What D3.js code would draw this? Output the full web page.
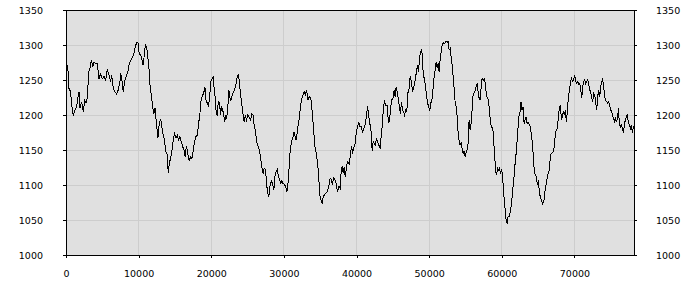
<!DOCTYPE html>
<html>
<head>
<meta charset="utf-8">
<script src="https://cdn.jsdelivr.net/npm/d3@7"></script>
<style>
  body { margin: 0; background: #fff; }
  #chart { width: 700px; height: 300px; }
  .axis text { font-family: "DejaVu Sans", sans-serif; font-size: 9.5px; fill: #000; }
  .axis line { stroke: #000; shape-rendering: crispEdges; }
  .axis path { display: none; }
</style>
</head>
<body>
<div id="chart"></div>
<script>
// values
const xTicks = [0, 10000, 20000, 30000, 40000, 50000, 60000, 70000];
const yTicks = [1000, 1050, 1100, 1150, 1200, 1250, 1300, 1350];
const xMax = 78200;

const sampleX = [
  0, 280, 410, 640, 730, 1010, 1240, 1470, 1650, 1790, 1930, 2160, 2390, 2570, 2750, 2940,
  3120, 3300, 3490, 3670, 3850, 4130, 4310, 4540, 4770, 5000, 5230, 5460, 5690, 5920, 6150,
  6280, 6510, 6740, 6970, 7200, 7430, 7520, 7710, 7890, 8070, 8300, 8530, 8720, 8990, 9170,
  9360, 9540, 9730, 9910, 10090, 10280, 10460, 10600, 10730, 10920, 11100, 11240, 11420,
  11560, 11740, 11930, 12110, 12250, 12390, 12520, 12660, 12840, 13030, 13170, 13300, 13440,
  13580, 13720, 13900, 14080, 14220, 14400, 14590, 14770, 14950, 15140, 15320, 15500, 15690,
  15870, 16060, 16240, 16420, 16560, 16700, 16830, 16970, 17160, 17340, 17520, 17710, 17890,
  18070, 18260, 18440, 18530, 18670, 18850, 18990, 19130, 19270, 19450, 19630,
  19770, 19950, 20140, 20270, 20410, 20550, 20690, 20820, 20960, 21140, 21280, 21420, 21560,
  21700, 21830, 21970, 22110, 22250, 22430, 22570, 22700, 22890, 23070, 23250, 23440, 23580,
  23710, 23850, 23990, 24170, 24360, 24540, 24680, 24860, 25040, 25230, 25410, 25590, 25780,
  25920, 26050, 26190, 26330, 26510, 26700, 26830, 27020, 27150, 27290, 27470, 27610, 27750,
  27930, 28070, 28250, 28440, 28620, 28760, 28940, 29080, 29220, 29400, 29580, 29720, 29860,
  30040, 30230, 30410, 30550, 30690, 30870, 31050, 31240, 31370, 31510, 31650, 31790, 31970,
  32150, 32290, 32470, 32660, 32800, 32980, 33120, 33300, 33480, 33670, 33800, 33940, 34130,
  34260, 34450, 34630, 34770, 34910, 35090, 35270, 35410, 35590, 35780, 35960, 36100, 36240,
  36370, 36560, 36690, 36830, 37020, 37200, 37380, 37570, 37750, 37890, 38020, 38160, 38300,
  38440, 38620, 38760, 38940,
  38990, 39170, 39310, 39450, 39580, 39770, 39950, 40130, 40320, 40460, 40640, 40820, 41010,
  41190, 41370, 41510, 41650, 41790, 41920, 42060, 42150, 42290, 42430, 42570, 42750, 42890,
  43070, 43250, 43390, 43570, 43710, 43850, 44030, 44220, 44400, 44540, 44680, 44810, 45000,
  45180, 45320, 45450, 45640, 45780, 45910, 46050, 46190, 46330, 46460, 46600, 46790, 46920,
  47060, 47240, 47380, 47560, 47700, 47890, 48070, 48250, 48390, 48530, 48670, 48800, 48990,
  49120, 49260, 49400, 49580, 49720, 49900, 50090, 50230, 50410, 50550, 50680, 50820, 50960,
  51100, 51230, 51370, 51510, 51650, 51780, 51970, 52150, 52290, 52470, 52610, 52750, 52890,
  53020, 53160, 53300, 53440, 53570, 53710, 53850, 53990, 54120, 54260, 54400, 54540, 54670,
  54810, 54950, 55090, 55230, 55360, 55500, 55640, 55780, 55910, 56050, 56230, 56370, 56510,
  56650, 56780, 56920, 57060, 57200, 57340, 57470, 57610, 57750, 57890, 58020, 58160, 58300,
  58440,
  58570, 58760, 58890, 59030, 59170, 59310, 59400, 59540, 59670, 59810, 59950, 60090, 60220,
  60360, 60500, 60590, 60730, 60870, 61000, 61140, 61280, 61420, 61550, 61690, 61830, 61970,
  62100, 62240, 62380, 62520, 62650, 62790, 62930, 63070, 63200, 63340, 63480, 63620, 63800,
  63940, 64080, 64210, 64350, 64490, 64630, 64760, 64900, 65040, 65180, 65310, 65450, 65590,
  65730, 65870, 66000, 66140, 66280, 66420, 66550, 66690, 66830, 66970, 67100, 67240, 67380,
  67520, 67650, 67790, 67930, 68070, 68200, 68340, 68480, 68620, 68760, 68890, 69030, 69170,
  69310, 69440, 69580, 69720, 69860, 70040, 70180, 70320, 70450, 70590, 70730, 70870, 71000,
  71140, 71280, 71420, 71550, 71690, 71830, 71970, 72100, 72240, 72380, 72520, 72650, 72790,
  72930, 73070, 73200, 73340, 73480, 73620, 73760, 73890, 74030, 74170, 74310, 74440, 74580,
  74720, 74860, 74990, 75130, 75270, 75410, 75540, 75680, 75820, 75960, 76050, 76190, 76320,
  76460, 76600, 76740, 76870, 77010, 77150, 77290, 77430, 77560, 77700, 77840, 77980, 78110,
  78200
];

const sampleY = [
  1281, 1262, 1238, 1233, 1219, 1199, 1207, 1212, 1225, 1233, 1210, 1219, 1205, 1221, 1217, 1224,
  1262, 1267, 1279, 1269, 1275, 1273, 1274, 1252, 1259, 1252, 1255, 1250, 1265, 1257, 1248,
  1257, 1238, 1233, 1230, 1236, 1248, 1260, 1248, 1233, 1248, 1255, 1262, 1274, 1279, 1283,
  1288, 1298, 1303, 1304, 1286, 1287, 1279, 1271, 1281, 1300, 1298, 1286, 1267,
  1243, 1229, 1212, 1202, 1210, 1195, 1181, 1167, 1188, 1194, 1186, 1174, 1171,
  1162, 1148, 1145, 1117, 1131, 1138, 1150, 1165, 1173, 1167, 1171, 1165, 1169,
  1162, 1155, 1150, 1140, 1155, 1150, 1140, 1135, 1140, 1138, 1150, 1162, 1169,
  1171, 1188, 1202, 1217, 1224, 1229, 1233, 1240, 1221, 1217, 1212,
  1226, 1248, 1252, 1255, 1236, 1224, 1202, 1199, 1219, 1217, 1200, 1212, 1207,
  1202, 1190, 1198, 1195, 1207, 1236, 1224, 1221, 1229, 1233, 1238, 1245, 1255,
  1257, 1250, 1233, 1219, 1202, 1190, 1200, 1193, 1200, 1197, 1193, 1202, 1200,
  1183, 1179, 1167, 1157, 1154, 1145, 1136, 1121, 1117, 1124, 1122, 1102, 1090,
  1083, 1098, 1106, 1102, 1093, 1112, 1119, 1122, 1114, 1107, 1102, 1107, 1102,
  1101, 1098, 1090, 1100, 1121, 1150, 1162, 1167, 1176, 1171, 1164, 1171, 1186,
  1198, 1214, 1224, 1229, 1233, 1229, 1236, 1221, 1226, 1225, 1217, 1198, 1174,
  1155, 1145, 1131, 1117, 1088, 1079, 1074, 1083, 1086, 1088, 1090, 1095, 1102,
  1110, 1107, 1100, 1110, 1108, 1102, 1090, 1098, 1095, 1121, 1127, 1117, 1126,
  1112, 1126, 1133, 1131,
  1129, 1145, 1156, 1145, 1152, 1157, 1174, 1183, 1190, 1183, 1183, 1176, 1181,
  1186, 1198, 1213, 1202, 1190, 1183, 1171, 1148, 1162, 1160, 1157, 1167, 1162,
  1157, 1152, 1169, 1188, 1212, 1219, 1214, 1214, 1188, 1193, 1207, 1222, 1222,
  1236, 1226, 1240, 1231, 1221, 1210, 1202, 1219, 1207, 1205, 1200, 1207, 1205,
  1231, 1238, 1255, 1248, 1233, 1240, 1250, 1262, 1271, 1262, 1281, 1290, 1293,
  1267, 1255, 1248, 1233, 1221, 1212, 1207, 1217, 1224, 1240, 1255, 1264, 1276,
  1267, 1274, 1262, 1279, 1290, 1300, 1303, 1302, 1305, 1304, 1305, 1293, 1295,
  1283, 1271, 1255, 1238, 1219, 1212, 1198, 1174, 1164, 1157, 1160, 1152, 1145,
  1148, 1140, 1146, 1150, 1160, 1193, 1179, 1188, 1207, 1229, 1233, 1236, 1243,
  1245, 1226, 1224, 1221, 1250, 1252, 1250, 1252, 1243, 1226, 1225, 1221, 1207,
  1188,
  1183, 1181, 1162, 1140, 1119, 1114, 1126, 1121, 1124, 1117, 1121, 1117, 1093,
  1076, 1060, 1050, 1045, 1055, 1055, 1060, 1069, 1083, 1098, 1112, 1131, 1145,
  1162, 1183, 1200, 1205, 1219, 1207, 1212, 1188, 1193, 1197, 1188, 1190, 1186,
  1183, 1171, 1160, 1140, 1117, 1114, 1112, 1100, 1107, 1088, 1083, 1079, 1073,
  1076, 1081, 1098, 1102, 1112, 1119, 1121, 1143, 1145, 1146, 1148, 1155, 1174,
  1179, 1181, 1198, 1210, 1214, 1193, 1198, 1205, 1200, 1207, 1190, 1207, 1226,
  1236, 1245, 1252, 1248, 1250, 1257, 1248, 1245, 1248, 1244, 1245, 1236, 1224,
  1240, 1248, 1250, 1245, 1248, 1250, 1243, 1236, 1233, 1224, 1219, 1231, 1229,
  1217, 1207, 1226, 1236, 1226, 1240, 1248, 1251, 1240, 1226, 1221, 1219, 1217,
  1219, 1214, 1207, 1205, 1198, 1195, 1190, 1195, 1190, 1198, 1210, 1188, 1183,
  1186, 1181, 1174, 1186, 1193, 1198, 1200, 1188, 1186, 1181, 1186, 1174, 1183,
  1181
];

class Chart{
  constructor(opts){
    this.element = opts.element;
    this.data = sampleX.map((x, i) => ({x: x, y: sampleY[i]}));
  }

  draw(){
    this.width = 700;
    this.height = 300;
    this.margin = {top: 10, bottom: 45, left: 66, right: 66};

    this.element.innerHTML = '';
    const svg = d3.select(this.element).append('svg')
                  .attr('width', this.width)
                  .attr('height', this.height);

    this.plot = svg.append('g')
                   .attr('transform', `translate(${this.margin.left},${this.margin.top})`);

    this.createScales();
    this.addBackground();
    this.addAxes();
    this.addLine();
    this.addFrame();
  }

  createScales(){
    const m = this.margin;
    this.w = this.width - m.left - m.right;
    this.h = this.height - m.top - m.bottom;

    this.xScale = d3.scaleLinear()
                    .domain([0, xMax])
                    .range([0, this.w]);

    this.yScale = d3.scaleLinear()
                    .domain([1000, 1350])
                    .range([this.h, 0]);
  }

  addBackground(){
    this.plot.append('rect')
             .attr('width', this.w)
             .attr('height', this.h)
             .attr('fill', '#e0e0e0');

    const grid = this.plot.append('g')
                          .attr('stroke', '#cdcdcd')
                          .style('shape-rendering', 'crispEdges');

    grid.selectAll('.vgrid')
        .data(xTicks)
        .join('line')
        .attr('x1', d => this.xScale(d))
        .attr('x2', d => this.xScale(d))
        .attr('y1', 0)
        .attr('y2', this.h);

    grid.selectAll('.hgrid')
        .data(yTicks)
        .join('line')
        .attr('x1', 0)
        .attr('x2', this.w)
        .attr('y1', d => this.yScale(d))
        .attr('y2', d => this.yScale(d));
  }

  addAxes(){
    const xAxis = d3.axisBottom(this.xScale)
                    .tickValues(xTicks)
                    .tickFormat(d3.format('d'))
                    .tickSize(3)
                    .tickPadding(12);

    const yLeft = d3.axisLeft(this.yScale)
                    .tickValues(yTicks)
                    .tickFormat(d3.format('d'))
                    .tickSize(3)
                    .tickPadding(20);

    const yRight = d3.axisRight(this.yScale)
                     .tickValues(yTicks)
                     .tickFormat(d3.format('d'))
                     .tickSize(3)
                     .tickPadding(19);

    this.plot.append('g')
             .attr('class', 'x axis')
             .attr('transform', `translate(0,${this.h})`)
             .call(xAxis);

    this.plot.append('g')
             .attr('class', 'y axis')
             .call(yLeft);

    this.plot.append('g')
             .attr('class', 'y axis')
             .attr('transform', `translate(${this.w},0)`)
             .call(yRight);
  }

  addLine(){
    const line = d3.line()
                   .x(d => this.xScale(d.x))
                   .y(d => this.yScale(d.y));

    this.plot.append('path')
             .datum(this.data)
             .attr('d', line)
             .style('fill', 'none')
             .style('stroke', '#000')
             .style('stroke-width', 1)
             .style('shape-rendering', 'crispEdges');
  }

  addFrame(){
    this.plot.append('rect')
             .attr('width', this.w)
             .attr('height', this.h)
             .attr('fill', 'none')
             .attr('stroke', '#000')
             .style('shape-rendering', 'crispEdges');
  }
}

const chart = new Chart({element: document.getElementById('chart')});
chart.draw();
</script>
</body>
</html>
